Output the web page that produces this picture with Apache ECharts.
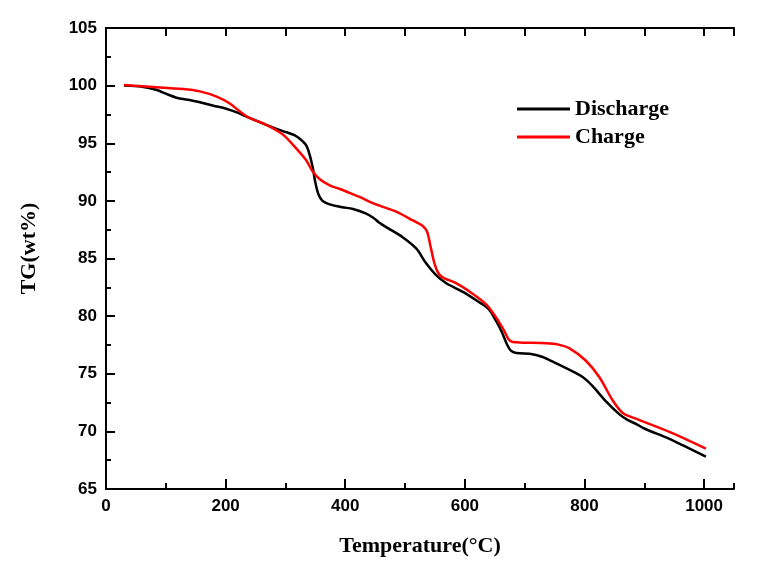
<!DOCTYPE html>
<html>
<head>
<meta charset="utf-8">
<script src="https://cdn.jsdelivr.net/npm/echarts@6/dist/echarts.min.js"></script>
<style>html,body{margin:0;padding:0;background:#fff}#c{width:759px;height:567px}</style>
</head>
<body>
<div id="c"></div>
<script>
const seriesNames = ['Discharge', 'Charge'];
const xTitle = 'Temperature(°C)';
const yTitle = 'TG(wt%)';
const xTicks = [0, 200, 400, 600, 800, 1000];
const yTicks = [65, 70, 75, 80, 85, 90, 95, 100, 105];

const dischargeT = [30,60,85,100,118,140,157,180,201,220,240,268,285,302,315,325,335,341,346,350,355,362,374,395,413,435,448,457,474,496,519,535,552,569,597,624,640,652,662,670,677,686,713,730,747,786,800,814,836,858,872,886,900,942,970,1003];
const dischargeV = [100.0,99.9,99.62,99.3,98.95,98.75,98.55,98.25,98.0,97.65,97.2,96.6,96.25,95.95,95.7,95.35,94.8,93.9,92.8,91.6,90.6,90.0,89.7,89.45,89.3,88.9,88.5,88.1,87.55,86.85,85.85,84.6,83.55,82.85,82.1,81.2,80.6,79.6,78.6,77.6,77.0,76.8,76.7,76.45,76.05,75.05,74.6,73.9,72.6,71.5,71.0,70.65,70.25,69.35,68.65,67.8];

const chargeT = [30,73,129,157,185,207,224,240,268,296,318,335,345,357,374,390,407,424,446,486,513,530,537,542,549,556,565,586,613,636,652,666,673,680,696,736,755,775,802,825,847,864,886,942,1003];
const chargeV = [100.05,99.9,99.7,99.5,99.05,98.45,97.75,97.2,96.6,95.75,94.55,93.5,92.6,91.9,91.35,91.05,90.7,90.35,89.8,89.05,88.3,87.8,87.3,86.2,84.6,83.7,83.3,82.85,81.95,81.0,79.9,78.7,78.0,77.75,77.7,77.65,77.55,77.2,76.15,74.7,72.7,71.6,71.1,69.95,68.5];

const pair = (xs, ys) => xs.map((x, i) => [x, ys[i]]);
const black = '#000';
const tickFont = {fontFamily: 'Liberation Sans', fontWeight: 'bold', fontSize: 17, color: black};
const serif = {fontFamily: 'Liberation Serif', fontWeight: 'bold', fontSize: 22, color: black};

const chart = echarts.init(document.getElementById('c'), null, {renderer: 'canvas'});
chart.setOption({
  animation: false,
  backgroundColor: '#fff',
  grid: {left: 106, right: 25, top: 28, bottom: 78, containLabel: false},
  legend: {
    orient: 'vertical', left: 512, top: 93,
    itemWidth: 53, itemHeight: 3, itemGap: 6, icon: 'rect',
    textStyle: Object.assign({}, serif, {lineHeight: 22}),
    data: seriesNames
  },
  xAxis: [
    {
      type: 'value', position: 'bottom', min: xTicks[0], max: 1050, interval: xTicks[1] - xTicks[0],
      name: xTitle, nameLocation: 'middle', nameGap: 46, nameTextStyle: serif,
      axisLine: {show: true, lineStyle: {color: black, width: 2}},
      axisTick: {show: true, inside: true, length: 10, lineStyle: {color: black, width: 2}},
      axisLabel: Object.assign({margin: 9, showMaxLabel: false, formatter: v => String(v)}, tickFont),
      splitLine: {show: false}
    },
    {
      type: 'value', position: 'bottom', min: 0, max: 1050, interval: 100,
      axisLine: {show: false},
      axisTick: {show: true, inside: true, length: 6, lineStyle: {color: black, width: 2}},
      axisLabel: {show: false}, splitLine: {show: false}
    },
    {
      type: 'value', position: 'top', min: 0, max: 1050, interval: 100,
      axisLine: {show: true, lineStyle: {color: black, width: 2}},
      axisTick: {show: true, inside: true, length: 8, lineStyle: {color: black, width: 2}},
      axisLabel: {show: false}, splitLine: {show: false}
    }
  ],
  yAxis: [
    {
      type: 'value', position: 'left', min: yTicks[0], max: yTicks[yTicks.length - 1], interval: yTicks[1] - yTicks[0],
      name: yTitle, nameLocation: 'middle', nameGap: 66, nameTextStyle: Object.assign({}, serif, {padding: [0, 0, 0, 20]}),
      axisLine: {show: true, lineStyle: {color: black, width: 2}},
      axisTick: {show: true, inside: true, length: 9, lineStyle: {color: black, width: 2}},
      minorTick: {show: true, splitNumber: 2, length: 5, lineStyle: {color: black, width: 2}},
      axisLabel: Object.assign({margin: 9, formatter: v => String(v)}, tickFont),
      splitLine: {show: false}
    },
    {
      type: 'value', position: 'right', min: 65, max: 105,
      axisLine: {show: true, lineStyle: {color: black, width: 2}},
      axisTick: {show: false}, axisLabel: {show: false}, splitLine: {show: false}
    }
  ],
  series: [
    {name: seriesNames[0], type: 'line', xAxisIndex: 0, yAxisIndex: 0, data: pair(dischargeT, dischargeV),
     showSymbol: false, symbol: 'none', smooth: 0.3, color: '#000', lineStyle: {color: '#000', width: 2.5}},
    {name: seriesNames[1], type: 'line', xAxisIndex: 0, yAxisIndex: 0, data: pair(chargeT, chargeV),
     showSymbol: false, symbol: 'none', smooth: 0.3, color: '#ff0000', lineStyle: {color: '#ff0000', width: 2.5}}
  ]
});
</script>
</body>
</html>
